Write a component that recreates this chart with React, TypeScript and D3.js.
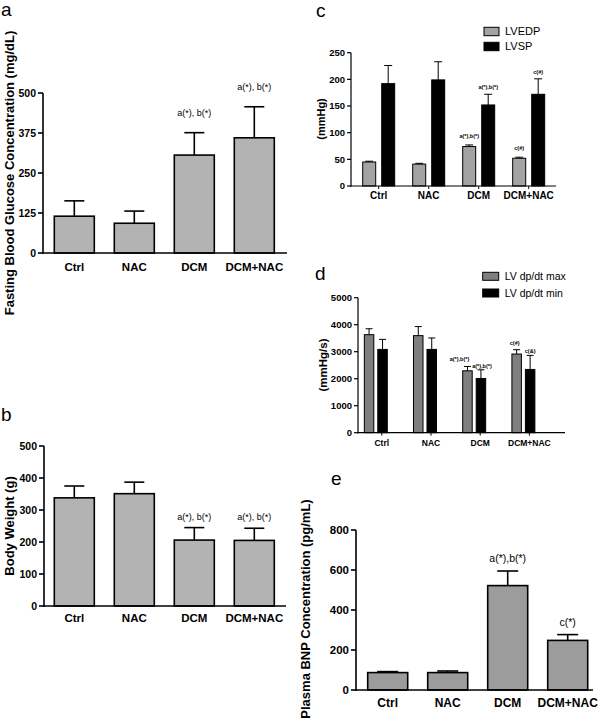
import React from "react";
import * as d3 from "d3";

const categories = ["Ctrl", "NAC", "DCM", "DCM+NAC"];

const glucoseMean = [115, 93, 306, 360];
const glucoseErr = [48, 38, 70, 97];
const glucoseTicks = [0, 125, 250, 375, 500];
const glucoseNotes = ["", "", "a(*), b(*)", "a(*), b(*)"];

const weightMean = [338, 351, 206, 205];
const weightErr = [37, 36, 39, 38];
const weightTicks = [0, 100, 200, 300, 400, 500];
const weightNotes = ["", "", "a(*), b(*)", "a(*), b(*)"];

const pressureSeries = ["LVEDP", "LVSP"];
const lvedpMean = [45, 41, 74, 52];
const lvedpErr = [1.5, 1.5, 3, 2];
const lvedpNotes = ["", "", "a(*),b(*)", "c(#)"];
const lvspMean = [192, 199, 152, 172];
const lvspErr = [34, 34, 20, 29];
const lvspNotes = ["", "", "a(*),b(*)", "c(#)"];
const pressureTicks = [0, 50, 100, 150, 200, 250];

const dpSeries = ["LV dp/dt max", "LV dp/dt min"];
const dpMaxMean = [3630, 3595, 2293, 2914];
const dpMaxErr = [220, 335, 160, 160];
const dpMaxNotes = ["", "", "a(*),b(*)", "c(#)"];
const dpMinMean = [3085, 3085, 2008, 2343];
const dpMinErr = [372, 423, 322, 520];
const dpMinNotes = ["", "", "a(*),b(*)", "c(&)"];
const dpTicks = [0, 1000, 2000, 3000, 4000, 5000];

const bnpMean = [87, 87, 522, 248];
const bnpErr = [5, 8, 73, 29];
const bnpTicks = [0, 200, 400, 600, 800];
const bnpNotes = ["", "", "a(*),b(*)", "c(*)"];

const FONT = "'Liberation Sans', Arial, Helvetica, sans-serif";

type YAxisProps = {
  y: d3.ScaleLinear<number, number>;
  x: number;
  ticks: number[];
  fontSize: number;
  sw: number;
  tickLen: number;
};

function YAxis({ y, x, ticks, fontSize, sw, tickLen }: YAxisProps) {
  const [r0, r1] = y.range();
  return (
    <g>
      <line x1={x} x2={x} y1={r0 + sw / 2} y2={r1} stroke="#000" strokeWidth={sw} />
      {ticks.map((t) => (
        <g key={t}>
          <line x1={x - tickLen} x2={x} y1={y(t)} y2={y(t)} stroke="#000" strokeWidth={sw} />
          <text
            x={x - tickLen - 2}
            y={y(t)}
            dy="0.36em"
            textAnchor="end"
            fontSize={fontSize}
            fontWeight="bold"
            fontFamily={FONT}
          >
            {t}
          </text>
        </g>
      ))}
    </g>
  );
}

type XAxisProps = {
  x0: number;
  x1: number;
  yPos: number;
  centers: number[];
  labels: string[];
  fontSize: number;
  labelY: number;
  sw: number;
  tickLen: number;
};

function XAxis({ x0, x1, yPos, centers, labels, fontSize, labelY, sw, tickLen }: XAxisProps) {
  return (
    <g>
      <line x1={x0} x2={x1} y1={yPos} y2={yPos} stroke="#000" strokeWidth={sw} />
      {centers.map((c, i) => (
        <g key={i}>
          {tickLen > 0 && (
            <line x1={c} x2={c} y1={yPos} y2={yPos + tickLen} stroke="#000" strokeWidth={sw * 0.8} />
          )}
          <text
            x={c}
            y={labelY}
            textAnchor="middle"
            fontSize={fontSize}
            fontWeight="bold"
            fontFamily={FONT}
          >
            {labels[i]}
          </text>
        </g>
      ))}
    </g>
  );
}

type BarsProps = {
  xs: number[];
  width: number;
  y: d3.ScaleLinear<number, number>;
  means: number[];
  errs: number[];
  notes: string[];
  fill: string;
  sw: number;
  capW: number;
  noteSize: number;
  noteGap: number;
  noteBold?: boolean;
  noteDx?: number[];
};

function Bars({ xs, width, y, means, errs, notes, fill, sw, capW, noteSize, noteGap, noteBold, noteDx }: BarsProps) {
  const base = y(0);
  return (
    <g>
      {means.map((m, i) => {
        const cx = xs[i] + width / 2;
        const top = y(m);
        const et = y(m + errs[i]);
        return (
          <g key={i}>
            <line x1={cx} x2={cx} y1={top} y2={et} stroke="#000" strokeWidth={sw} />
            <line x1={cx - capW / 2} x2={cx + capW / 2} y1={et} y2={et} stroke="#000" strokeWidth={sw} />
            <rect
              x={xs[i]}
              y={top}
              width={width}
              height={base - top}
              fill={fill}
              stroke="#000"
              strokeWidth={sw}
            />
            {notes[i] && (
              <text
                x={cx + (noteDx ? noteDx[i] : 0)}
                y={et - noteGap}
                textAnchor="middle"
                fontSize={noteSize}
                fontWeight={noteBold ? "bold" : "normal"}
                fontFamily={FONT}
              >
                {notes[i]}
              </text>
            )}
          </g>
        );
      })}
    </g>
  );
}

function YLabel({ x, y, text, size }: { x: number; y: number; text: string; size: number }) {
  return (
    <text
      transform={`translate(${x},${y}) rotate(-90)`}
      textAnchor="middle"
      dy="0.36em"
      fontSize={size}
      fontWeight="bold"
      fontFamily={FONT}
    >
      {text}
    </text>
  );
}

function Letter({ x, y, t }: { x: number; y: number; t: string }) {
  return (
    <text x={x} y={y} fontSize={19} fontFamily={FONT}>
      {t}
    </text>
  );
}

function Legend({ x, y, names, fills, size, boxW, boxH, gap }: any) {
  return (
    <g>
      {names.map((n: string, i: number) => (
        <g key={n}>
          <rect x={x} y={y + i * gap} width={boxW} height={boxH} fill={fills[i]} stroke="#000" strokeWidth={1} />
          <text x={x + boxW + 6} y={y + i * gap + boxH / 2} dy="0.36em" fontSize={size} fontFamily={FONT}>
            {n}
          </text>
        </g>
      ))}
    </g>
  );
}

export default function App() {
  // Panel a
  const xA = d3.scaleBand<string>().domain(categories).range([44.3, 284.3]).paddingInner(1 / 3).paddingOuter(1 / 6);
  const yA = d3.scaleLinear().domain([0, 500]).range([253, 93]);
  // Panel b
  const yB = d3.scaleLinear().domain([0, 500]).range([606, 446]);
  // Panel c
  const xC = d3.scaleBand<string>().domain(categories).range([353.7, 553.7]).paddingInner(0.36).paddingOuter(0.18);
  const xCi = d3.scaleBand<string>().domain(pressureSeries).range([0, xC.bandwidth()]).paddingInner(6 / 19);
  const yC = d3.scaleLinear().domain([0, 250]).range([186, 52.7]);
  // Panel d
  const xD = d3.scaleBand<string>().domain(categories).range([359.4, 539.8]).paddingInner(0.533).paddingOuter(0.1);
  const xDi = d3.scaleBand<string>().domain(dpSeries).range([0, xD.bandwidth()]).paddingInner(0.296);
  const yD = d3.scaleLinear().domain([0, 5000]).range([432.7, 297.7]);
  // Panel e
  const xE = d3.scaleBand<string>().domain(categories).range([357.7, 597.7]).paddingInner(1 / 3).paddingOuter(1 / 6);
  const yE = d3.scaleLinear().domain([0, 800]).range([690, 530]);

  const cA = categories.map((c) => (xA(c) as number) + xA.bandwidth() / 2);
  const cC = categories.map((c) => (xC(c) as number) + xC.bandwidth() / 2);
  const cD = categories.map((c) => (xD(c) as number) + xD.bandwidth() / 2 + 6);
  const cE = categories.map((c) => (xE(c) as number) + xE.bandwidth() / 2);

  const grayAB = "#b3b3b3";
  const grayC = "#a3a3a3";
  const grayD = "#7f7f7f";
  const grayE = "#9c9c9c";

  return (
    <svg
      width={600}
      height={722}
      style={{ position: "absolute", left: 0, top: 0, background: "#fff" }}
    >
      <rect x={0} y={0} width={600} height={722} fill="#fff" />

      {/* Panel a */}
      <Letter x={1} y={16} t="a" />
      <YLabel x={9} y={173} text="Fasting Blood Glucose Concentration (mg/dL)" size={13} />
      <Bars
        xs={categories.map((c) => xA(c) as number)}
        width={xA.bandwidth()}
        y={yA}
        means={glucoseMean}
        errs={glucoseErr}
        notes={glucoseNotes}
        fill={grayAB}
        sw={1.6}
        capW={20}
        noteSize={9}
        noteGap={17}
      />
      <YAxis y={yA} x={43} ticks={glucoseTicks} fontSize={10.5} sw={1.6} tickLen={5} />
      <XAxis x0={42} x1={287} yPos={253} centers={cA} labels={categories} fontSize={11.5} labelY={271} sw={1.6} tickLen={0} />

      {/* Panel b */}
      <Letter x={1} y={421} t="b" />
      <YLabel x={9} y={526} text="Body Weight (g)" size={13} />
      <Bars
        xs={categories.map((c) => xA(c) as number)}
        width={xA.bandwidth()}
        y={yB}
        means={weightMean}
        errs={weightErr}
        notes={weightNotes}
        fill={grayAB}
        sw={1.6}
        capW={20}
        noteSize={9}
        noteGap={8}
      />
      <YAxis y={yB} x={44} ticks={weightTicks} fontSize={10.5} sw={1.6} tickLen={5} />
      <XAxis x0={43} x1={286} yPos={606} centers={cA} labels={categories} fontSize={11.5} labelY={622} sw={1.6} tickLen={0} />

      {/* Panel c */}
      <Letter x={316} y={17} t="c" />
      <YLabel x={321.5} y={119} text="(mmHg)" size={11} />
      <Legend x={484} y={27.3} names={pressureSeries} fills={[grayC, "#000"]} size={11} boxW={15} boxH={8.4} gap={15} />
      <Bars
        xs={categories.map((c) => (xC(c) as number) + (xCi("LVEDP") as number))}
        width={xCi.bandwidth()}
        y={yC}
        means={lvedpMean}
        errs={lvedpErr}
        notes={lvedpNotes}
        fill={grayC}
        sw={1}
        capW={8}
        noteSize={5.5}
        noteGap={7}
        noteBold
      />
      <Bars
        xs={categories.map((c) => (xC(c) as number) + (xCi("LVSP") as number))}
        width={xCi.bandwidth()}
        y={yC}
        means={lvspMean}
        errs={lvspErr}
        notes={lvspNotes}
        fill="#000"
        sw={1}
        capW={8}
        noteSize={5.5}
        noteGap={5}
        noteBold
      />
      <YAxis y={yC} x={351} ticks={pressureTicks} fontSize={9.5} sw={1.2} tickLen={4} />
      <XAxis x0={350} x1={556} yPos={186} centers={cC} labels={categories} fontSize={10} labelY={198.5} sw={1.2} tickLen={3} />

      {/* Panel d */}
      <Letter x={315} y={280} t="d" />
      <YLabel x={322.5} y={365} text="(mmHg/s)" size={11.5} />
      <Legend x={482.7} y={272.3} names={dpSeries} fills={[grayD, "#000"]} size={10.5} boxW={16} boxH={8} gap={16.7} />
      <Bars
        xs={categories.map((c) => (xD(c) as number) + (xDi(dpSeries[0]) as number))}
        width={xDi.bandwidth()}
        y={yD}
        means={dpMaxMean}
        errs={dpMaxErr}
        notes={dpMaxNotes}
        fill={grayD}
        sw={1}
        capW={7}
        noteSize={5.5}
        noteGap={5}
        noteBold
        noteDx={[0, 0, -8, -2]}
      />
      <Bars
        xs={categories.map((c) => (xD(c) as number) + (xDi(dpSeries[1]) as number))}
        width={xDi.bandwidth()}
        y={yD}
        means={dpMinMean}
        errs={dpMinErr}
        notes={dpMinNotes}
        fill="#000"
        sw={1}
        capW={7}
        noteSize={5.5}
        noteGap={2}
        noteBold
        noteDx={[0, 0, 1, 0]}
      />
      <YAxis y={yD} x={358} ticks={dpTicks} fontSize={9.5} sw={1.2} tickLen={4} />
      <XAxis x0={357} x1={565} yPos={432.7} centers={cD} labels={categories} fontSize={8.5} labelY={446} sw={1.2} tickLen={3} />

      {/* Panel e */}
      <Letter x={331} y={485} t="e" />
      <YLabel x={305.7} y={609} text="Plasma BNP Concentration (pg/mL)" size={13} />
      <Bars
        xs={categories.map((c) => xE(c) as number)}
        width={xE.bandwidth()}
        y={yE}
        means={bnpMean}
        errs={bnpErr}
        notes={bnpNotes}
        fill={grayE}
        sw={1.6}
        capW={21}
        noteSize={10.5}
        noteGap={9}
      />
      <YAxis y={yE} x={356} ticks={bnpTicks} fontSize={11.5} sw={1.6} tickLen={5} />
      <XAxis x0={355} x1={593} yPos={690} centers={cE} labels={categories} fontSize={12} labelY={707} sw={1.6} tickLen={0} />
    </svg>
  );
}
